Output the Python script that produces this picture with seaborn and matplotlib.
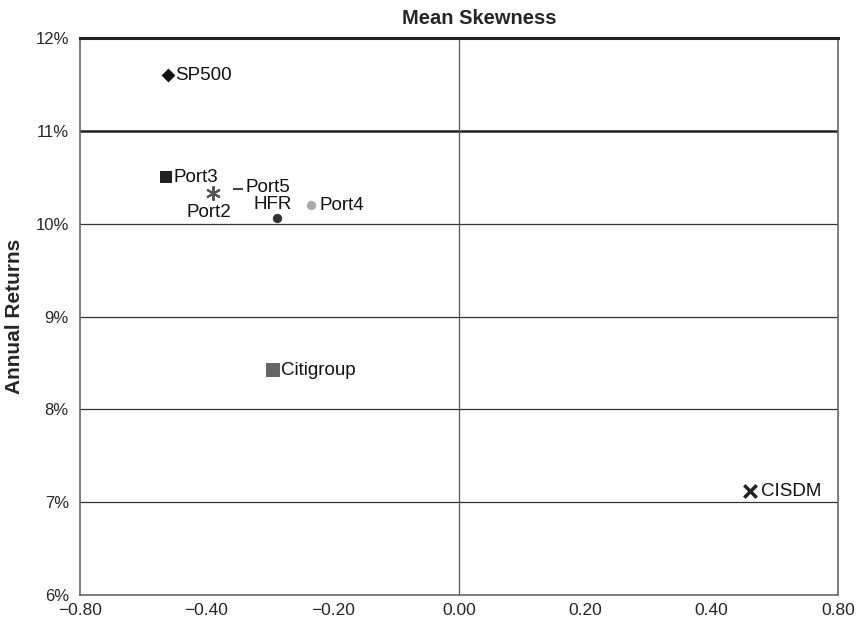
import matplotlib
matplotlib.use("Agg")
import matplotlib.pyplot as plt
import seaborn as sns
import pandas as pd
import numpy as np

names = ["SP500", "Port3", "Port2", "Port5", "HFR", "Port4", "Citigroup", "CISDM"]
skewness = [-0.614, -0.618, -0.519, -0.466, -0.384, -0.312, -0.393, 0.614]
returns = [11.60, 10.50, 10.33, 10.37, 10.06, 10.20, 8.42, 7.12]

xtick_labels = ["\u22120.80", "\u22120.40", "\u22120.20", "0.00", "0.20", "0.40", "0.80"]
ytick_vals = [6, 7, 8, 9, 10, 11, 12]

df = pd.DataFrame({"name": names, "skew": skewness, "ret": returns})

markers = {"SP500": "D", "Port3": "s", "Port2": (6, 2, 0), "Port5": "_",
           "HFR": "o", "Port4": "o", "Citigroup": "s", "CISDM": "x"}
colors = {"SP500": "#111111", "Port3": "#222222", "Port2": "#555555", "Port5": "#444444",
          "HFR": "#333333", "Port4": "#aaaaaa", "Citigroup": "#666666", "CISDM": "#222222"}
sizes = {"SP500": 50, "Port3": 70, "Port2": 90, "Port5": 60,
         "HFR": 45, "Port4": 45, "Citigroup": 90, "CISDM": 80}

sns.set_style("white")
plt.rcParams["font.family"] = ["Liberation Sans", "DejaVu Sans"]

fig = plt.figure(figsize=(8.58, 6.24), dpi=100)
ax = fig.add_axes([0.0932, 0.0465, 0.8835, 0.8925])

for n in names:
    sub = df[df["name"] == n]
    lw = 1.5 if n in ("Port2", "Port5") else (2.5 if n == "CISDM" else 0)
    sns.scatterplot(data=sub, x="skew", y="ret", marker=markers[n], color=colors[n],
                    s=sizes[n], linewidth=lw, edgecolor=colors[n], ax=ax,
                    zorder=3, legend=False)

# point labels
offsets = {"SP500": (5, 0, "left"), "Port3": (5, 0, "left"), "Port2": (-3, -14, "center"),
           "Port5": (5, 1, "left"), "HFR": (-3, 10, "center"), "Port4": (6, 0, "left"),
           "Citigroup": (6, 0, "left"), "CISDM": (8, 0, "left")}
for n, xv, yv in zip(names, skewness, returns):
    dx, dy, ha = offsets[n]
    ax.annotate(n, (xv, yv), xytext=(dx, dy), textcoords="offset points",
                ha=ha, va="center", fontsize=13.5, color="#111111")

ax.set_xlim(-0.8, 0.8)
ax.set_ylim(6, 12)

# gridlines
for v in [7, 8, 9, 10]:
    ax.axhline(v, color="#333333", lw=0.9, zorder=1)
ax.axhline(11, color="#222222", lw=1.8, zorder=1)
ax.axvline(0, color="#555555", lw=0.9, zorder=1)

ax.set_xticks(np.linspace(-0.8, 0.8, len(xtick_labels)))
ax.set_xticklabels(xtick_labels)
ax.set_yticks(ytick_vals)
ax.set_yticklabels([f"{v}%" for v in ytick_vals])
ax.tick_params(axis="y", length=0, labelsize=12, pad=8)
ax.tick_params(axis="x", length=0, labelsize=12.5, pad=6)

for side in ["left", "bottom", "right"]:
    ax.spines[side].set_color("#666666")
    ax.spines[side].set_linewidth(1.2)
ax.spines["top"].set_color("#222222")
ax.spines["top"].set_linewidth(2.2)

ax.set_xlabel("")
ax.set_ylabel("Annual Returns", fontsize=15, fontweight="bold", labelpad=8)
ax.text(0.527, 1.018, "Mean Skewness", transform=ax.transAxes, ha="center", va="bottom",
        fontsize=14.5, fontweight="bold")

fig.savefig("out.png", dpi=100)
